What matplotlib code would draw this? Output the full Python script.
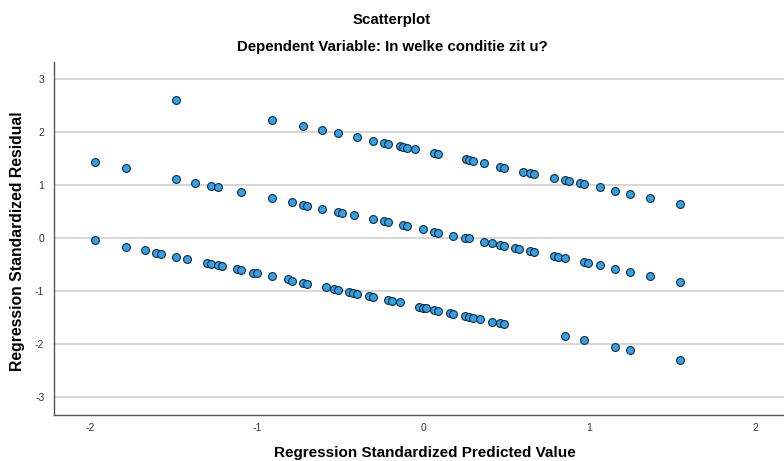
import matplotlib
matplotlib.use("Agg")
import matplotlib.pyplot as plt

plt.rcParams["font.family"] = ["Liberation Sans", "DejaVu Sans"]

TITLE = "Scatterplot"
SUBTITLE = "Dependent Variable: In welke conditie zit u?"
X_LABEL = "Regression Standardized Predicted Value"
Y_LABEL = "Regression Standardized Residual"

# standardized predicted value / standardized residual
top_x = [-1.487, -0.907, -0.723, -0.607, -0.513, -0.397, -0.304, -0.236, -0.212,
         -0.142, -0.120, -0.098, -0.052, 0.062, 0.088, 0.255, 0.276, 0.297, 0.365,
         0.459, 0.485, 0.599, 0.643, 0.669, 0.785, 0.853, 0.877, 0.946, 0.970,
         1.064, 1.154, 1.246, 1.364, 1.547]
top_y = [2.594, 2.222, 2.100, 2.024, 1.968, 1.893, 1.829, 1.786, 1.767,
         1.729, 1.716, 1.697, 1.667, 1.598, 1.579, 1.479, 1.466, 1.447, 1.404,
         1.340, 1.321, 1.246, 1.222, 1.203, 1.133, 1.085, 1.066, 1.028, 1.009,
         0.953, 0.889, 0.833, 0.758, 0.639]

mid_x = [-1.974, -1.787, -1.487, -1.370, -1.278, -1.232, -1.094, -0.907, -0.791,
         -0.725, -0.699, -0.607, -0.513, -0.489, -0.418, -0.302, -0.236, -0.212,
         -0.120, -0.096, -0.004, 0.062, 0.088, 0.180, 0.251, 0.276, 0.365, 0.415,
         0.459, 0.483, 0.553, 0.575, 0.643, 0.669, 0.785, 0.809, 0.853, 0.968,
         0.994, 1.064, 1.154, 1.246, 1.364, 1.547]
mid_y = [1.429, 1.310, 1.115, 1.039, 0.983, 0.953, 0.865, 0.746, 0.671,
         0.620, 0.607, 0.551, 0.494, 0.476, 0.427, 0.357, 0.320, 0.301,
         0.239, 0.226, 0.164, 0.118, 0.100, 0.043, 0.000, -0.013, -0.075, -0.107,
         -0.132, -0.150, -0.194, -0.207, -0.250, -0.269, -0.344, -0.357, -0.382, -0.464,
         -0.483, -0.520, -0.583, -0.645, -0.714, -0.833]

low_x = [-1.974, -1.787, -1.671, -1.605, -1.578, -1.487, -1.418, -1.302, -1.276,
         -1.232, -1.208, -1.118, -1.094, -1.025, -0.999, -0.907, -0.813, -0.791,
         -0.723, -0.699, -0.583, -0.537, -0.513, -0.445, -0.421, -0.397, -0.328,
         -0.304, -0.212, -0.188, -0.142, -0.028, -0.004, 0.018, 0.062, 0.088, 0.159,
         0.180, 0.251, 0.275, 0.297, 0.343, 0.415, 0.459, 0.483, 0.853, 0.970,
         1.154, 1.246, 1.547]
low_y = [-0.043, -0.164, -0.239, -0.282, -0.301, -0.357, -0.400, -0.476, -0.494,
         -0.521, -0.539, -0.588, -0.607, -0.658, -0.671, -0.727, -0.784, -0.808,
         -0.846, -0.865, -0.934, -0.964, -0.977, -1.028, -1.039, -1.053, -1.096,
         -1.115, -1.179, -1.197, -1.216, -1.297, -1.316, -1.329, -1.353, -1.372, -1.410,
         -1.429, -1.472, -1.498, -1.509, -1.536, -1.579, -1.603, -1.622, -1.861, -1.936,
         -2.055, -2.111, -2.306]

X_TICKS = [-2, -1, 0, 1, 2]
Y_TICKS = [-3, -2, -1, 0, 1, 2, 3]

fig = plt.figure(figsize=(7.84, 4.61), dpi=100)
ax = fig.add_axes([0.069, 0.100, 0.931, 0.766])

for xs, ys in [(top_x, top_y), (mid_x, mid_y), (low_x, low_y)]:
    ax.scatter(xs, ys, s=32, c="#2ea3ec", edgecolors="#1a2a36", linewidths=0.8,
               zorder=3)

ax.set_xlim(-2.22, 2.17)
ax.set_ylim(-3.34, 3.32)
ax.set_xticks(X_TICKS)
ax.set_yticks(Y_TICKS)
ax.set_xticklabels([str(t) for t in X_TICKS])
ax.set_yticklabels([str(t) for t in Y_TICKS])
ax.tick_params(length=0, labelsize=7.5, colors="#333333")
ax.tick_params(axis="x", pad=6)
ax.tick_params(axis="y", pad=7)
ax.grid(axis="y", color="#d6d6d6", lw=1.4, zorder=0)
ax.set_axisbelow(True)
for s in ("top", "right"):
    ax.spines[s].set_visible(False)
for s in ("left", "bottom"):
    ax.spines[s].set_color("#555555")
    ax.spines[s].set_linewidth(1.0)

# axis titles placed in figure pixels, as in the reference
fig.text(425 / 784, 1 - 453 / 461, X_LABEL, ha="center", va="center",
         fontsize=11, fontweight="bold")
fig.text(18 / 784, 1 - 241 / 461, Y_LABEL, ha="center", va="center",
         rotation=90, fontsize=11.3, fontweight="bold")

fig.text(0.5, 1 - 20 / 461, TITLE, ha="center", va="center", fontsize=10.8,
         fontweight="bold")
fig.text(0.5, 1 - 47 / 461, SUBTITLE, ha="center", va="center", fontsize=10.8,
         fontweight="bold")

fig.savefig("out.png", dpi=100)
